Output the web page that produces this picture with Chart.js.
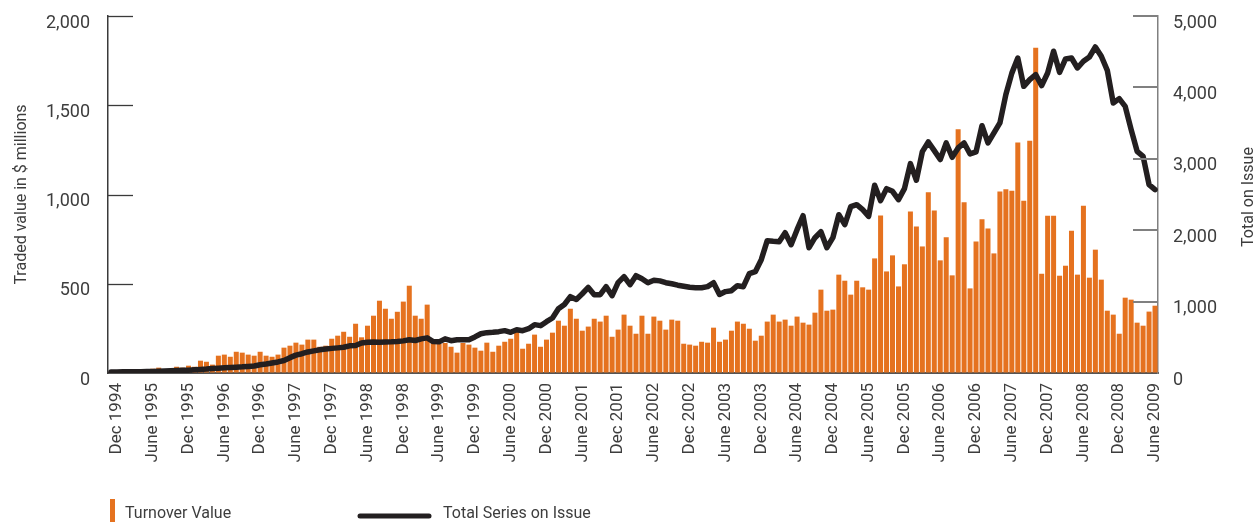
<!DOCTYPE html>
<html>
<head>
<meta charset="utf-8">
<script src="https://cdn.jsdelivr.net/npm/chart.js@4"></script>
<style>
  html, body { margin: 0; padding: 0; background: #fff; }
  #wrap { width: 1256px; height: 522px; }
</style>
</head>
<body>
<div id="wrap"><canvas id="turnoverChart" width="1256" height="522"></canvas></div>
<script>
// months run from Nov 1994 to June 2009 (176 bars)
var monthNames = ["Jan", "Feb", "Mar", "Apr", "May", "June", "July", "Aug", "Sep", "Oct", "Nov", "Dec"];
var months = [];
for (var k = 0; k < 176; k++) {
  var m = (10 + k) % 12;
  var yr = 1994 + Math.floor((10 + k) / 12);
  months.push(monthNames[m] + " " + yr);
}

// Turnover value, $ millions (left axis)
var turnover = [
  2, 3, 5, 6, 8, 10, 12, 24, 30, 14, 18, 35,
  30, 41, 35, 69, 63, 47, 97, 103, 91, 119, 114, 103,
  97, 119, 97, 91, 103, 142, 153, 170, 159, 187, 187, 147,
  153, 192, 209, 231, 203, 276, 200, 265, 321, 405, 360, 304,
  343, 400, 489, 321, 304, 383, 168, 163, 168, 147, 114, 168,
  159, 142, 125, 170, 119, 153, 175, 192, 231, 136, 164, 215,
  147, 187, 226, 293, 265, 360, 304, 237, 260, 304, 288, 321,
  203, 243, 327, 265, 220, 321, 220, 316, 293, 243, 299, 293,
  164, 159, 153, 175, 170, 254, 175, 187, 237, 288, 276, 248,
  181, 209, 288, 327, 288, 299, 265, 316, 282, 271, 338, 467,
  349, 355, 551, 517, 439, 517, 480, 467, 642, 883, 569, 659,
  485, 609, 905, 821, 709, 1012, 911, 631, 760, 547, 1365, 956,
  474, 737, 861, 810, 670, 1017, 1029, 1021, 1292, 965, 1301, 1822,
  556, 881, 881, 545, 601, 797, 551, 937, 534, 691, 523, 349,
  327, 220, 422, 411, 282, 265, 344, 377
];

// Total series on issue (right axis)
var seriesOnIssue = [
  15, 15, 16, 17, 18, 19, 20, 22, 25, 28, 31, 34,
  37, 40, 45, 50, 55, 62, 68, 72, 77, 82, 86, 92,
  98, 115, 125, 140, 155, 175, 215, 250, 270, 295, 310, 326,
  335, 345, 352, 360, 380, 385, 420, 432, 434, 432, 434, 436,
  440, 450, 466, 455, 478, 492, 440, 436, 478, 452, 466, 465,
  466, 505, 550, 565, 570, 579, 593, 570, 605, 593, 620, 677,
  663, 719, 770, 900, 960, 1069, 1030, 1110, 1199, 1097, 1097, 1209,
  1083, 1265, 1349, 1237, 1363, 1321, 1265, 1300, 1290, 1265, 1250, 1230,
  1215, 1200, 1195, 1195, 1210, 1265, 1100, 1140, 1153, 1223, 1209, 1391,
  1419, 1587, 1853, 1845, 1839, 1965, 1797, 2007, 2203, 1755, 1895, 1979,
  1755, 1895, 2217, 2077, 2329, 2357, 2287, 2194, 2629, 2414, 2582, 2545,
  2428, 2582, 2932, 2700, 3100, 3236, 3114, 2990, 3222, 3021, 3152, 3222,
  3068, 3096, 3464, 3222, 3362, 3502, 3900, 4200, 4412, 4015, 4109, 4179,
  4025, 4202, 4506, 4211, 4398, 4412, 4272, 4366, 4426, 4566, 4436, 4239,
  3782, 3843, 3735, 3408, 3105, 3035, 2638, 2568
];

var leftTicks = [0, 500, 1000, 1500, 2000];
var rightTicks = [0, 1000, 2000, 3000, 4000, 5000];

var textColor = "#3d3d3d";
var fontName = "Roboto, 'Liberation Sans', sans-serif";

// inward tick marks, right title and the legend row
var chartDecor = {
  id: "chartDecor",
  afterDatasetsDraw: function (chart) {
    var ctx = chart.ctx, a = chart.chartArea;
    ctx.save();
    ctx.lineWidth = 1.3;
    ctx.strokeStyle = "#3a3a3a";
    leftTicks.forEach(function (v) {
      if (v === 0) return;
      var py = Math.round(chart.scales.y.getPixelForValue(v)) + 0.5;
      ctx.beginPath();
      ctx.moveTo(a.left, py);
      ctx.lineTo(a.left + 25, py);
      ctx.stroke();
    });
    ctx.lineWidth = 2;
    ctx.strokeStyle = "#808080";
    rightTicks.forEach(function (v) {
      if (v === 0) return;
      var py = Math.round(chart.scales.y1.getPixelForValue(v));
      ctx.beginPath();
      ctx.moveTo(a.right - 25, py);
      ctx.lineTo(a.right, py);
      ctx.stroke();
    });
    ctx.restore();
  },
  afterDraw: function (chart) {
    var ctx = chart.ctx;
    var bars = chart.data.datasets[1], line = chart.data.datasets[0];
    ctx.save();
    ctx.fillStyle = textColor;
    ctx.font = "16px " + fontName;
    ctx.textBaseline = "middle";

    // right axis title, reads bottom to top
    ctx.save();
    ctx.translate(1249, 197);
    ctx.rotate(-Math.PI / 2);
    ctx.textAlign = "center";
    ctx.fillText("Total on Issue", 0, 0);
    ctx.restore();

    // legend
    ctx.fillStyle = bars.backgroundColor;
    ctx.fillRect(110, 499, 5, 23);
    ctx.fillStyle = textColor;
    ctx.textAlign = "left";
    ctx.fillText(bars.label, 125, 514);

    ctx.strokeStyle = line.borderColor;
    ctx.lineWidth = 5;
    ctx.lineCap = "round";
    ctx.beginPath();
    ctx.moveTo(360, 516);
    ctx.lineTo(429, 516);
    ctx.stroke();
    ctx.fillText(line.label, 443, 514);
    ctx.restore();
  }
};

var ctx = document.getElementById("turnoverChart").getContext("2d");

var turnoverChart = new Chart(ctx, {
  type: "bar",
  data: {
    labels: months,
    datasets: [
      {
        type: "line",
        label: "Total Series on Issue",
        data: seriesOnIssue,
        yAxisID: "y1",
        borderColor: "#231f20",
        borderWidth: 5.5,
        borderJoinStyle: "round",
        borderCapStyle: "round",
        pointRadius: 0,
        tension: 0,
        order: 1,
      },
      {
        label: "Turnover Value",
        data: turnover,
        yAxisID: "y",
        backgroundColor: "#e5721f",
        barPercentage: 0.84,
        categoryPercentage: 1,
        order: 2,
      },
    ],
  },
  options: {
    responsive: false,
    animation: false,
    layout: { padding: { top: 16 } },
    plugins: {
      legend: { display: false },
      tooltip: { enabled: false },
    },
    scales: {
      x: {
        offset: true,
        grid: { display: false, drawTicks: false },
        border: { color: "#555", width: 2 },
        afterFit: function (s) { s.height = 149; s.paddingLeft = 0; s.paddingRight = 0; },
        ticks: {
          autoSkip: false,
          minRotation: 90,
          maxRotation: 90,
          padding: 10,
          color: textColor,
          font: { family: fontName, size: 17 },
          callback: function (value) {
            var lbl = this.getLabelForValue(value);
            return (lbl.indexOf("Dec") === 0 || lbl.indexOf("June") === 0) ? lbl : "";
          },
        },
      },
      y: {
        position: "left",
        min: 0,
        max: 2000,
        grid: { drawOnChartArea: false, drawTicks: false },
        border: { color: "#3a3a3a", width: 1.5 },
        afterFit: function (s) { s.width = 108; s.paddingTop = 0; s.paddingBottom = 0; },
        afterBuildTicks: function (s) { s.ticks = leftTicks.map(function (v) { return { value: v }; }); },
        ticks: {
          padding: 18,
          labelOffset: 7,
          color: textColor,
          font: { family: fontName, size: 18 },
          callback: function (v) { return v.toLocaleString("en-US"); },
        },
        title: {
          display: true,
          text: "Traded value in $ millions",
          color: textColor,
          font: { family: fontName, size: 16 },
          padding: { top: 12, bottom: 0 },
        },
      },
      y1: {
        position: "right",
        min: 0,
        max: 5000,
        grid: { drawOnChartArea: false, drawTicks: false },
        border: { color: "#808080", width: 1.5 },
        afterFit: function (s) { s.width = 98; s.paddingTop = 0; s.paddingBottom = 0; },
        afterBuildTicks: function (s) { s.ticks = rightTicks.map(function (v) { return { value: v }; }); },
        ticks: {
          padding: 15,
          labelOffset: 7,
          color: textColor,
          font: { family: fontName, size: 18 },
          callback: function (v) { return v.toLocaleString("en-US"); },
        },
      },
    },
  },
  plugins: [chartDecor],
});
</script>
</body>
</html>
